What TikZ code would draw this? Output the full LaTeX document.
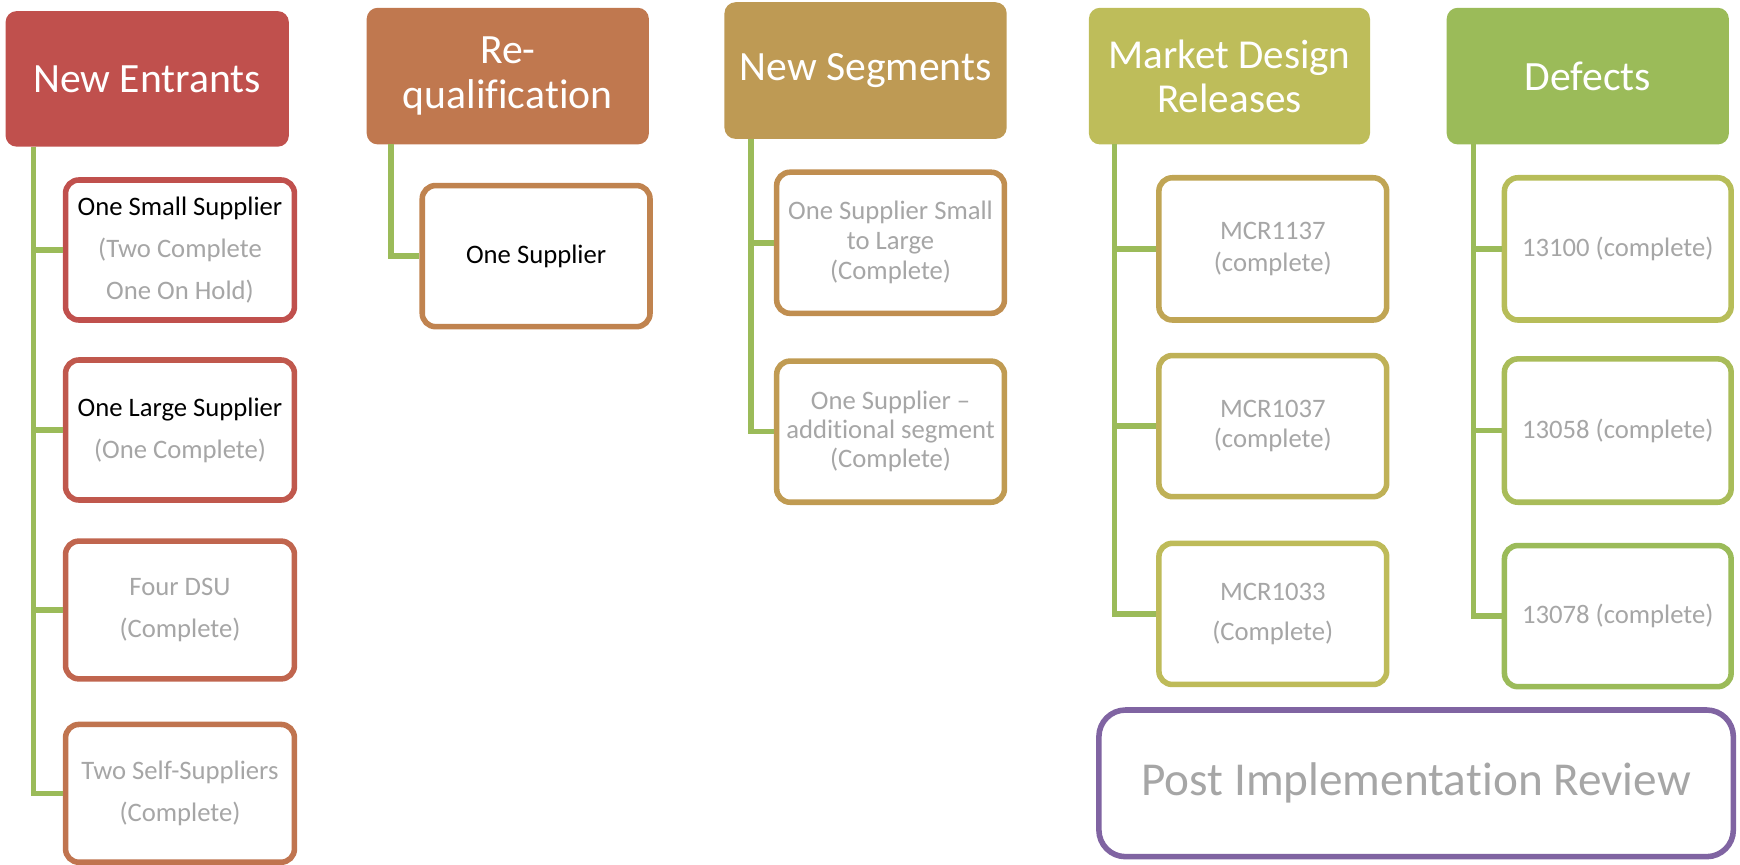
\documentclass[tikz,border=0pt]{standalone}
\usepackage{fontspec}
\setmainfont{Carlito}[RawFeature={-liga,-clig,-calt,-dlig}]
\definecolor{hNE}{HTML}{C0504D}
\definecolor{hRQ}{HTML}{C0784F}
\definecolor{hNS}{HTML}{BE9A54}
\definecolor{hMD}{HTML}{BEBD5A}
\definecolor{hDF}{HTML}{9BBB59}
\definecolor{bNEa}{HTML}{C0504D}
\definecolor{bNEb}{HTML}{C0584D}
\definecolor{bNEc}{HTML}{C0654E}
\definecolor{bNEd}{HTML}{C0744F}
\definecolor{bRQ}{HTML}{C0834F}
\definecolor{bNSa}{HTML}{C08E50}
\definecolor{bNSb}{HTML}{C09B52}
\definecolor{bMDa}{HTML}{C0A554}
\definecolor{bMDb}{HTML}{BFB157}
\definecolor{bMDc}{HTML}{BEBB59}
\definecolor{bDFa}{HTML}{B7BD59}
\definecolor{bDFb}{HTML}{A9BC59}
\definecolor{bDFc}{HTML}{9BBB59}
\definecolor{conn}{HTML}{9BBB59}
\definecolor{txtgray}{HTML}{A6A6A6}
\definecolor{pirc}{HTML}{8064A2}
\tikzset{
  head/.style={rounded corners=10pt, inner sep=0pt, align=center, text=white,
    font=\fontsize{37.5}{41}\selectfont},
  kid/.style={draw, line width=5pt, rounded corners=12pt, fill=white, inner sep=0pt,
    align=center, text=txtgray, font=\fontsize{24}{38}\selectfont},
  link/.style={draw=conn, line width=5pt},
}
\begin{document}
\begin{tikzpicture}[x=1pt,y=-1pt]
\useasboundingbox (0,0) rectangle (1566,778.5);
% connector start points
\coordinate (neT) at (30,132);
\coordinate (rqT) at (352,130);
\coordinate (nsT) at (676,125);
\coordinate (mdT) at (1003,130);
\coordinate (dfT) at (1326,130);
% headers
\node[head, fill=hNE, minimum width=255pt, minimum height=122pt] (ne) at (132.5,71) {New Entrants};
\node[head, fill=hRQ, minimum width=254pt, minimum height=123pt] (rq) at (457,68.5) {Re-\\quali\kern0pt fica\kern0pt tion};
\node[head, fill=hNS, minimum width=254pt, minimum height=123pt] (ns) at (779,63.5) {New Segments};
\node[head, fill=hMD, minimum width=253pt, minimum height=123pt, font=\fontsize{37}{40}\selectfont] (md) at (1106.5,68.5) {Market Design\\Releases};
\node[head, fill=hDF, minimum width=254pt, minimum height=123pt] (df) at (1429,68.5) {Defects};
% New Entrants children
\node[kid, draw=bNEa, minimum width=206pt, minimum height=126pt] (ne1) at (162,225) {\textcolor{black}{One Small Supplier}\\(Two Complete\\One On Hold)};
\node[kid, draw=bNEb, minimum width=206pt, minimum height=126pt] (ne2) at (162,387) {\textcolor{black}{One Large Supplier}\\(One Complete)};
\node[kid, draw=bNEc, minimum width=206pt, minimum height=124pt] (ne3) at (162,549) {Four DSU\\(Complete)};
\node[kid, draw=bNEd, minimum width=206pt, minimum height=124pt] (ne4) at (162,714) {Two Self-Suppliers\\(Complete)};
% Re-qualification child
\node[kid, draw=bRQ, minimum width=205pt, minimum height=127pt] (rq1) at (482.5,230.5) {\textcolor{black}{One Supplier}};
% New Segments children
\node[kid, draw=bNSa, minimum width=205pt, minimum height=127pt, font=\fontsize{24}{27}\selectfont] (ns1) at (801.5,218.5) {One Supplier Small\\to Large\\(Complete)};
\node[kid, draw=bNSb, minimum width=205pt, minimum height=127pt, font=\fontsize{24}{26}\selectfont] (ns2) at (801.5,388.5) {One Supplier --\\additional segment\\(Complete)};
% Market Design children
\node[kid, draw=bMDa, minimum width=205pt, minimum height=128pt, font=\fontsize{24}{29}\selectfont] (md1) at (1145.5,224) {MCR1137\\(complete)};
\node[kid, draw=bMDb, minimum width=205pt, minimum height=127pt, font=\fontsize{24}{27}\selectfont] (md2) at (1145.5,383.5) {MCR1037\\(complete)};
\node[kid, draw=bMDc, minimum width=205pt, minimum height=127pt, font=\fontsize{24}{36}\selectfont] (md3) at (1145.5,552.5) {MCR1033\\(Complete)};
% Defects children
\node[kid, draw=bDFa, minimum width=204pt, minimum height=128pt] (df1) at (1456,224) {13100 (complete)};
\node[kid, draw=bDFb, minimum width=204pt, minimum height=129pt] (df2) at (1456,387.5) {13058 (complete)};
\node[kid, draw=bDFc, minimum width=204pt, minimum height=127pt] (df3) at (1456,554.5) {13078 (complete)};
% Post Implementation Review
\node[kid, draw=pirc, rounded corners=24pt, minimum width=571pt, minimum height=132pt, font=\fontsize{42.5}{46}\selectfont] (pir) at (1274.5,705) {Post Implementa\kern0pt tion Review};
% connector lines
\path[link] (neT) |- (ne1.west);
\path[link] (neT) |- (ne2.west);
\path[link] (neT) |- (ne3.west);
\path[link] (neT) |- (ne4.west);
\path[link] (rqT) |- (rq1.west);
\path[link] (nsT) |- (ns1.west);
\path[link] (nsT) |- (ns2.west);
\path[link] (mdT) |- (md1.west);
\path[link] (mdT) |- (md2.west);
\path[link] (mdT) |- (md3.west);
\path[link] (dfT) |- (df1.west);
\path[link] (dfT) |- (df2.west);
\path[link] (dfT) |- (df3.west);
\end{tikzpicture}
\end{document}
